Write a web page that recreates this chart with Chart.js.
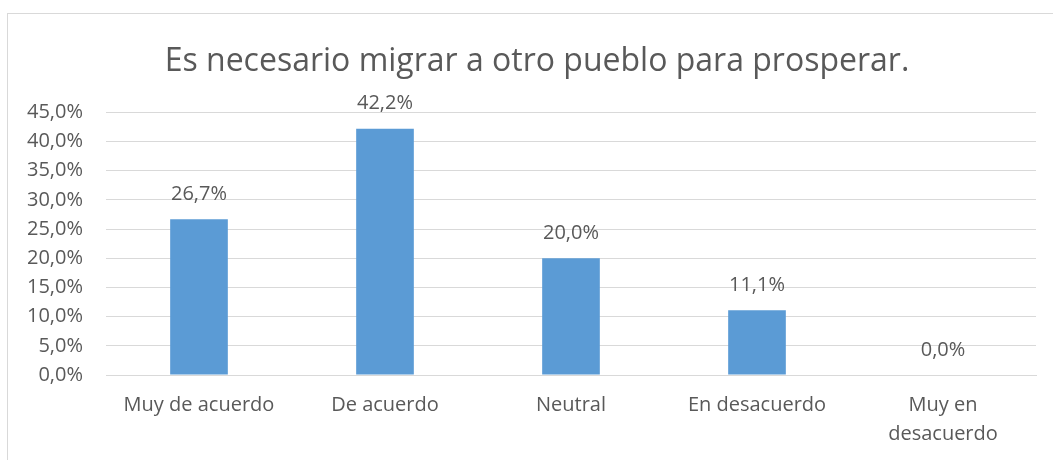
<!DOCTYPE html>
<html lang="es">
<head>
<meta charset="UTF-8">
<title>Es necesario migrar a otro pueblo para prosperar.</title>
<script src="https://cdn.jsdelivr.net/npm/chart.js"></script>
<style>
    body { margin: 0; background: #ffffff; overflow: hidden; }
    .frame {
        position: absolute;
        left: 7px;
        top: 13px;
        width: 1100px;
        height: 500px;
        border: 1px solid #d9d9d9;
    }
    .wrap { position: absolute; left: 0; top: 0; width: 1053px; height: 460px; }
</style>
</head>
<body>
<div class="frame"></div>
<div class="wrap"><canvas id="chart"></canvas></div>
<script>
const categories = ['Muy de acuerdo', 'De acuerdo', 'Neutral', 'En desacuerdo', ['Muy en', 'desacuerdo']];
const percentages = [26.7, 42.2, 20.0, 11.1, 0.0];
const yMax = 45;
const yStep = 5;

const fmt = v => v.toFixed(1).replace('.', ',') + '%';
const FONT = "'Open Sans', 'DejaVu Sans', sans-serif";

// Value labels above each bar
const valueLabels = {
    id: 'valueLabels',
    afterDatasetsDraw(chart) {
        const ctx = chart.ctx;
        const meta = chart.getDatasetMeta(0);
        ctx.save();
        ctx.font = '20px ' + FONT;
        ctx.fillStyle = '#595959';
        ctx.textAlign = 'center';
        ctx.textBaseline = 'middle';
        meta.data.forEach((bar, i) => {
            ctx.fillText(fmt(percentages[i]), bar.x, bar.y - 25);
        });
        ctx.restore();
    }
};

new Chart(document.getElementById('chart'), {
    type: 'bar',
    data: {
        labels: categories,
        datasets: [{
            data: percentages,
            backgroundColor: '#5b9bd5',
            borderWidth: 0,
            categoryPercentage: 1,
            barPercentage: 0.31
        }]
    },
    options: {
        responsive: true,
        maintainAspectRatio: false,
        animation: false,
        layout: { padding: { left: 21, right: 0, top: 0, bottom: 0 } },
        plugins: {
            legend: { display: false },
            tooltip: { enabled: false },
            title: {
                display: true,
                text: 'Es necesario migrar a otro pueblo para prosperar.',
                color: '#595959',
                font: { family: FONT, size: 32, weight: 'normal', lineHeight: 1.2 },
                padding: { top: 43, bottom: 31 }
            }
        },
        scales: {
            x: {
                grid: { display: false, drawTicks: false },
                border: { display: true, color: '#d9d9d9', width: 1 },
                ticks: {
                    color: '#595959',
                    font: { family: FONT, size: 20, lineHeight: 1.45 },
                    padding: 16,
                    maxRotation: 0,
                    autoSkip: false
                },
                afterFit(scale) { scale.height = 85; }
            },
            y: {
                min: 0,
                max: yMax,
                grid: { color: '#d9d9d9', lineWidth: 1, drawTicks: false },
                border: { display: false },
                ticks: {
                    stepSize: yStep,
                    color: '#595959',
                    font: { family: FONT, size: 20 },
                    padding: 23,
                    callback: v => fmt(v)
                },
                afterFit(scale) { scale.width = 85; }
            },
            // empty spacer on the right so the plot ends where the reference does
            spacer: {
                type: 'linear',
                position: 'right',
                grid: { display: false, drawTicks: false },
                border: { display: false },
                ticks: { display: false },
                afterFit(scale) { scale.width = 17; }
            }
        }
    },
    plugins: [valueLabels]
});
</script>
</body>
</html>
